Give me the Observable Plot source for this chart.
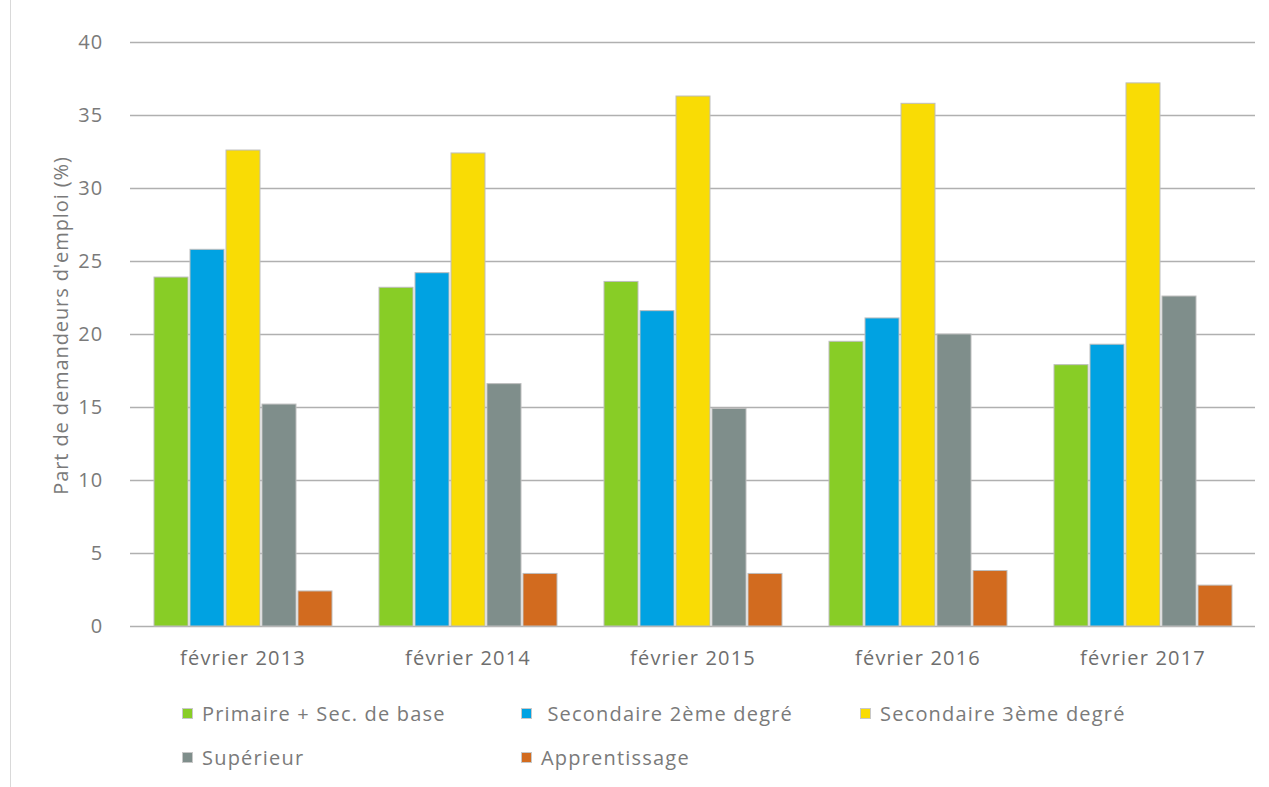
<!DOCTYPE html>
<html><head><meta charset="utf-8">
<script src="https://cdn.jsdelivr.net/npm/d3@7"></script>
<script src="https://cdn.jsdelivr.net/npm/@observablehq/plot@0.6"></script>
<style>
body{margin:0;background:#fff;font-family:"Open Sans",sans-serif;}
#wrap{position:relative;width:1269px;height:787px;overflow:hidden;}
#border{position:absolute;left:10px;top:0;width:1px;height:787px;background:#d9d9d9;}
.item{position:absolute;display:flex;align-items:center;height:24px;font-size:20px;letter-spacing:1.2px;color:#7a7a7a;white-space:pre;}
.sw{width:11px;height:11px;margin-right:9px;box-sizing:border-box;border:1px solid #c8c8c8;}
</style></head>
<body><div id="wrap"><div id="border"></div><div id="chart"></div><div id="legend"></div></div>
<script>
const years = ["février 2013","février 2014","février 2015","février 2016","février 2017"];
const categories = ["Primaire + Sec. de base","Secondaire 2ème degré","Secondaire 3ème degré","Supérieur","Apprentissage"];
const legendLabels = ["Primaire + Sec. de base"," Secondaire 2ème degré","Secondaire 3ème degré","Supérieur","Apprentissage"];
const colors = ["#88cd26","#00a2e2","#f9dc05","#7f8e8b","#d26b1f"];
const primaire   = [23.9, 23.2, 23.6, 19.5, 17.9];
const secondaire2 = [25.8, 24.2, 21.6, 21.1, 19.3];
const secondaire3 = [32.6, 32.4, 36.3, 35.8, 37.2];
const superieur  = [15.2, 16.6, 14.9, 20.0, 22.6];
const apprentissage = [2.4, 3.6, 3.6, 3.8, 2.8];
const yTicks = [0,5,10,15,20,25,30,35,40];

const series = [primaire, secondaire2, secondaire3, superieur, apprentissage];
const data = [];
years.forEach((yr, i) => categories.forEach((c, j) => data.push({year: yr, cat: c, value: series[j][i]})));

const chart = Plot.plot({
  width: 1269, height: 680,
  marginLeft: 130, marginRight: 14, marginTop: 42, marginBottom: 54,
  style: {fontFamily: "'Open Sans', sans-serif", color: "#7a7a7a", background: "#fff"},
  fx: {domain: years, padding: 0, label: null},
  x: {domain: categories, paddingInner: 0.06, paddingOuter: 0.65, axis: null},
  y: {domain: [0, 40], ticks: yTicks},
  color: {domain: categories, range: colors},
  marks: [
    Plot.gridY(yTicks, {stroke: "#b0b0b0", strokeOpacity: 1, strokeWidth: 1.3}),
    Plot.barY(data, {fx: "year", x: "cat", y: "value", fill: "cat", stroke: "#bdbdbd", strokeWidth: 1}),
    Plot.axisY(yTicks, {tickSize: 0, tickPadding: 27, fontSize: 20, fill: "#7a7a7a",
      label: "Part de demandeurs d'emploi (%)", labelArrow: false, labelAnchor: "center", labelOffset: 77}),
    Plot.axisFx({anchor: "bottom", tickSize: 0, tickPadding: 24, fontSize: 20, fill: "#6e6e6e", label: null})
  ]
});
document.getElementById("chart").appendChild(chart);
chart.querySelectorAll('g[aria-label="fx-axis tick label"] text, g[aria-label="y-axis tick label"] text')
  .forEach(t => t.style.letterSpacing = "1.2px");
chart.querySelectorAll('g[aria-label="y-axis label"] text').forEach(t => {
  t.style.fontSize = "20px";
  t.style.letterSpacing = "0.9px";
  t.setAttribute("dx", "9");
});

const leg = document.getElementById("legend");
legendLabels.forEach((lab, i) => {
  const col = i % 3, row = Math.floor(i / 3);
  const d = document.createElement("div");
  d.className = "item";
  d.style.left = (182 + col * 339) + "px";
  d.style.top = (701 + row * 44) + "px";
  const sw = document.createElement("span");
  sw.className = "sw"; sw.style.background = colors[i];
  const tx = document.createElement("span"); tx.textContent = lab;
  d.appendChild(sw); d.appendChild(tx);
  leg.appendChild(d);
});
</script></body></html>
